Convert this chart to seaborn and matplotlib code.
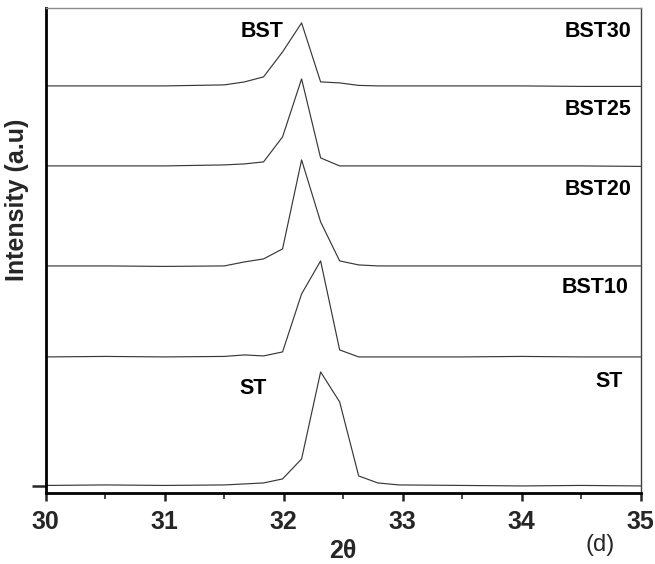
import numpy as np
import pandas as pd
import matplotlib
matplotlib.use('Agg')
import matplotlib.pyplot as plt
from matplotlib.ticker import MultipleLocator
import seaborn as sns

# 2theta grid (degrees) shared by all scans
two_theta = [30.0, 30.5, 31.0, 31.5, 31.67, 31.83, 31.99, 32.15, 32.31,
             32.47, 32.63, 32.79, 32.97, 33.5, 34.0, 34.5, 35.0]

# intensity above each scan's own baseline (a.u.)
st = [0.5, 1, 0.5, 1, 2, 3, 7, 27, 114, 84, 10, 3, 1, 0.5, 0, 0.5, 0]
bst10 = [0, 0.5, 0, 0.5, 2, 1, 5, 63, 96, 7, 0, 0, 0, 0, 0.5, 0, 0]
bst20 = [0, 0, -0.5, 0, 4, 7, 17, 106, 44, 5, 1, 0, 0, 0, 0, 0, 0]
bst25 = [0, 0, 0, 1, 2, 4, 29, 87, 8, 0, 0, 0, 0, 0, 0, 0, -0.5]
bst30 = [0, 0, 0, 1, 4, 9, 34, 63, 4, 3, 0.5, 0, 0, 0, 0, -0.5, -0.5]

samples = ['ST', 'BST10', 'BST20', 'BST25', 'BST30']
offsets = [0, 129, 220, 320, 400]
scans = [st, bst10, bst20, bst25, bst30]

sns.set_style('ticks')
plt.rcParams['font.family'] = ['Liberation Sans', 'DejaVu Sans']

fig = plt.figure(figsize=(6.55, 5.64), dpi=100)
ax = fig.add_axes([0.070, 0.126, 0.908, 0.860])

for name, off, vals in zip(samples, offsets, scans):
    df = pd.DataFrame({'2theta': two_theta, 'I': np.array(vals) + off})
    sns.lineplot(data=df, x='2theta', y='I', color='#383838', linewidth=0.85,
                 ax=ax, sort=False)

ax.set_xlim(30, 35)
ax.set_ylim(-7, 478)
ax.xaxis.set_major_locator(MultipleLocator(1))
ax.xaxis.set_minor_locator(MultipleLocator(0.5))
ax.set_yticks([0])
ax.set_yticklabels([])

ax.tick_params(axis='x', which='major', direction='out', length=6, width=1.8,
               labelsize=18, pad=6)
ax.tick_params(axis='x', which='minor', direction='out', length=4, width=1.2)
ax.tick_params(axis='y', direction='out', length=10, width=1.8)
for lab in ax.get_xticklabels():
    lab.set_fontweight('bold')

for side in ['left', 'bottom']:
    ax.spines[side].set_linewidth(2)
    ax.spines[side].set_color('black')
ax.spines['top'].set_linewidth(1)
ax.spines['top'].set_color('#8a8a8a')
ax.spines['right'].set_linewidth(1)
ax.spines['right'].set_color('#404040')

ax.set_xlabel('2θ', fontsize=18, fontweight='bold', labelpad=4)
ax.set_ylabel('Intensity (a.u)', fontsize=18, fontweight='bold')
ax.yaxis.set_label_coords(-0.028, 0.604)

lbl = dict(fontsize=15.5, fontweight='bold', va='center', color='black')
ax.text(31.64, 454, 'BST', ha='left', **lbl)
ax.text(31.63, 97, 'ST', ha='left', **lbl)
ax.text(34.92, 454, 'BST30', ha='right', **lbl)
ax.text(34.92, 376, 'BST25', ha='right', **lbl)
ax.text(34.92, 296, 'BST20', ha='right', **lbl)
ax.text(34.90, 198, 'BST10', ha='right', **lbl)
ax.text(34.85, 104, 'ST', ha='right', **lbl)

fig.text(0.916, 0.034, '(d)', fontsize=17, ha='center', va='center')

fig.savefig('out.png', dpi=100)
